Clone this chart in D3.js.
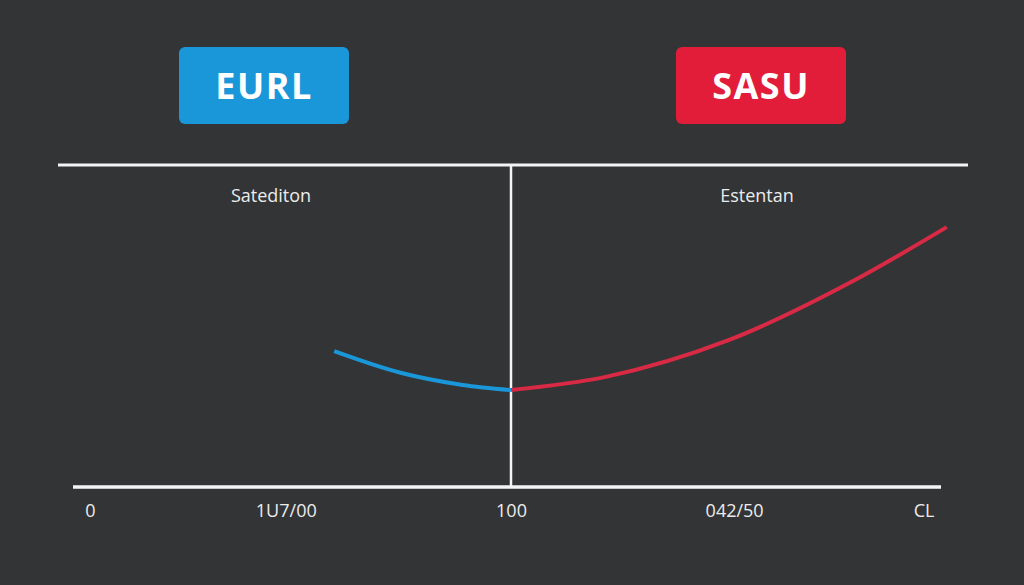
<!DOCTYPE html>
<html>
<head>
<meta charset="utf-8">
<script src="https://cdn.jsdelivr.net/npm/d3@7"></script>
<style>
  html, body { margin: 0; padding: 0; background: #333436; }
  svg { display: block; }
</style>
</head>
<body>
<div class="chart"></div>
<script>
// tick labels on the bottom axis (values read off the picture, not evenly spaced)
const tickLabels = ["0", "1U7/00", "100", "042/50", "CL"];
const tickValues = [0, 0.93, 2, 3.06, 3.96];

// column headers and badges
const badges = ["EURL", "SASU"];
const columnTitles = ["Satediton", "Estentan"];

// curves (x in tick units, y in 0..100)
const eurlX = [1.16, 1.48, 1.77, 2.0];
const eurlY = [42.2, 35.4, 31.7, 30.1];
const sasuX = [2.0, 2.45, 3.03, 3.62, 4.07];
const sasuY = [30.1, 34.2, 45.5, 63.8, 80.7];

const width = 1024;
const height = 585;

const svg = d3.select(".chart").append("svg")
  .attr("width", width)
  .attr("height", height);

svg.append("rect")
  .attr("width", width)
  .attr("height", height)
  .attr("fill", "#333436");

const xScale = d3.scaleLinear().domain([0, 4]).range([90, 932]);
const yScale = d3.scaleLinear().domain([0, 100]).range([487, 165]);

// badges
const badgeColors = ["#1a97d9", "#e11d3a"];
const badgeX = d3.scalePoint().domain(badges).range([264, 761]);

const badge = svg.selectAll("g.badge")
  .data(badges)
  .enter()
  .append("g")
  .attr("class", "badge")
  .attr("transform", (d) => `translate(${badgeX(d)}, 86)`);

badge.append("rect")
  .attr("x", -85)
  .attr("y", -39)
  .attr("width", 170)
  .attr("height", 77)
  .attr("rx", 6)
  .attr("fill", (d, i) => badgeColors[i]);

badge.append("text")
  .attr("text-anchor", "middle")
  .attr("dy", "0.36em")
  .attr("fill", "#ffffff")
  .style("font-family", "'Open Sans', sans-serif")
  .style("font-weight", 700)
  .style("font-size", "36px")
  .style("letter-spacing", "1.5px")
  .text((d) => d);

// frame lines
svg.append("line")
  .attr("x1", 58).attr("x2", 968)
  .attr("y1", yScale(100)).attr("y2", yScale(100))
  .attr("stroke", "#f4f4f4")
  .attr("stroke-width", 3);

svg.append("line")
  .attr("x1", xScale(2)).attr("x2", xScale(2))
  .attr("y1", yScale(100)).attr("y2", yScale(0))
  .attr("stroke", "#f4f4f4")
  .attr("stroke-width", 2.5);

svg.append("line")
  .attr("x1", 73).attr("x2", 941)
  .attr("y1", yScale(0)).attr("y2", yScale(0))
  .attr("stroke", "#f4f4f4")
  .attr("stroke-width", 3.5);

// column titles
const titleX = d3.scalePoint().domain(columnTitles).range([271, 757]);
svg.selectAll("text.title")
  .data(columnTitles)
  .enter()
  .append("text")
  .attr("class", "title")
  .attr("x", (d) => titleX(d))
  .attr("y", 202)
  .attr("text-anchor", "middle")
  .attr("fill", "#ececec")
  .style("font-family", "'Open Sans', sans-serif")
  .style("font-size", "18px")
  .text((d) => d);

// bottom axis labels
const axis = d3.axisBottom(xScale)
  .tickValues(tickValues)
  .tickSize(0)
  .tickPadding(17)
  .tickFormat((d, i) => tickLabels[i]);

const axisG = svg.append("g")
  .attr("transform", `translate(0, ${yScale(0)})`)
  .call(axis);
axisG.select(".domain").remove();
axisG.selectAll("text")
  .attr("fill", "#ececec")
  .style("font-family", "'Open Sans', sans-serif")
  .style("font-size", "18px");

// curves
const line = d3.line()
  .x((d) => xScale(d[0]))
  .y((d) => yScale(d[1]))
  .curve(d3.curveMonotoneX);

svg.append("path")
  .datum(eurlX.map((x, i) => [x, eurlY[i]]))
  .attr("d", line)
  .attr("fill", "none")
  .attr("stroke", "#1a97d9")
  .attr("stroke-width", 4);

svg.append("path")
  .datum(sasuX.map((x, i) => [x, sasuY[i]]))
  .attr("d", line)
  .attr("fill", "none")
  .attr("stroke", "#d92a45")
  .attr("stroke-width", 4);
</script>
</body>
</html>
